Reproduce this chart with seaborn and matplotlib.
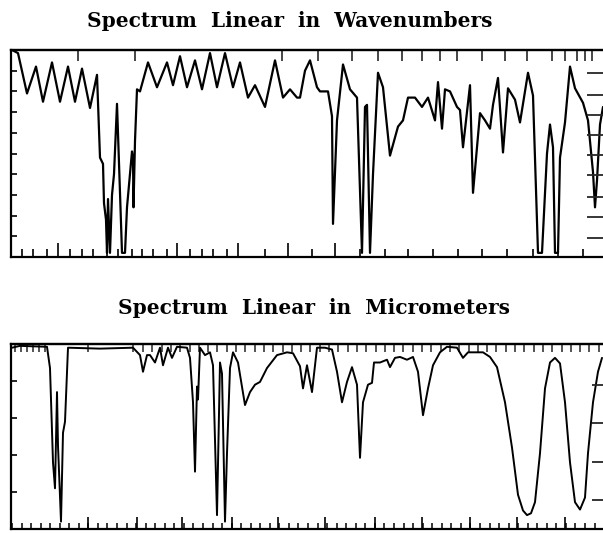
import numpy as np
import pandas as pd
import matplotlib
matplotlib.use("Agg")
import matplotlib.pyplot as plt
import seaborn as sns

# ---------------- data ----------------
# chart position along the x axis (arbitrary units, 0 = left frame) and transmittance (%)
wn_pos = [1, 7, 16, 25, 32, 41, 49, 57, 64, 71, 79, 86, 89, 92, 93, 95, 96, 97, 99, 101,
          103, 106, 109, 111, 114, 116, 121, 122, 122.5, 124, 126, 129, 137, 146, 156, 162,
          169, 176, 184, 191, 199, 206, 214, 222, 229, 237, 244, 254, 264, 272, 279, 286,
          289, 294, 299, 306, 309, 317, 321, 322, 326, 332, 339, 346, 349, 351, 354, 356,
          359, 362, 367, 372, 379, 387, 392, 397, 404, 411, 417, 424, 427, 431, 434, 439,
          446, 449, 452, 459, 462, 469, 474, 479, 482, 487, 492, 497, 504, 509, 517, 522,
          527, 531, 536, 539, 542, 544, 547, 549, 554, 559, 564, 572, 577, 582, 584, 586,
          589, 592]
wn_trans = [100, 98.5, 79, 92, 75, 94, 75, 92, 75, 91, 72, 88, 48, 45, 26, 18, 2, 28, 2, 30,
            40, 74, 31, 2, 2, 24, 51, 48, 24, 56, 81, 80, 94, 82, 94, 83,
            97, 82, 95, 81, 98.5, 82, 98.5, 82, 94, 77, 83, 72.5, 95, 77, 81, 77,
            77, 90, 95, 82, 80, 80, 68, 16, 66, 93, 81, 77, 32, 2, 72.5, 73.5,
            2, 40, 89, 82, 49, 63, 66, 77, 77, 72.5, 77, 66, 84.5, 62, 81, 80,
            72.5, 71, 53, 83, 31, 69.5, 66, 62, 73.5, 86.5, 50.5, 81.5, 76, 65, 89, 78,
            2, 2, 50, 64, 53, 2, 2, 48, 65, 92, 81.5, 74.5, 66, 41, 24, 37,
            64, 72.5]

um_pos = [1, 9, 36, 39, 42, 44, 46, 47, 50, 52, 54, 57, 89, 122, 129, 132, 136, 139, 144,
          149, 152, 157, 161, 166, 176, 179, 182, 184, 186, 187, 189, 194, 199, 202, 206,
          209, 211, 214, 216, 219, 222, 227, 234, 239, 244, 249, 256, 266, 276, 282, 289,
          292, 296, 301, 306, 314, 321, 326, 331, 336, 341, 346, 349, 352, 357, 361, 363,
          369, 376, 379, 384, 389, 396, 402, 407, 412, 417, 422, 429, 436, 446, 452, 457,
          466, 472, 479, 486, 494, 501, 507, 512, 516, 520, 524, 529, 534, 539, 544, 549,
          554, 559, 564, 569, 574, 577, 582, 587, 591]
um_trans = [98, 99, 98.5, 87, 36, 22, 74, 45, 4, 52, 58, 98, 97.5, 98, 94, 85, 94, 94, 90,
            98, 88.5, 98, 92.5, 98.5, 98, 92.5, 68.5, 31, 77, 70, 98, 94, 95.5, 88.5, 7.5,
            90, 84, 4, 41, 87, 95.5, 90, 67, 74, 78, 79.5, 87, 94, 95.5, 95, 88,
            76, 88.5, 74, 98, 98, 97, 85, 68.5, 79.5, 87.5, 78, 38.5, 68.5, 78, 79, 90,
            90, 91.5, 87.5, 92.5, 93, 91.5, 93, 85, 61.5, 76, 88.5, 95.5, 98.5, 98, 92.5, 95.5,
            95.5, 95.5, 93, 87.5, 68.5, 44, 18.5, 10, 7.5, 8.5, 14.5, 41, 76, 90, 92.5, 89.5,
            68.5, 36, 14.5, 10.5, 17, 41, 68.5, 85, 92.5]

titles = ["Spectrum  Linear  in  Wavenumbers", "Spectrum  Linear  in  Micrometers"]

# ---------------- figure ----------------
sns.set_style("white")
plt.rcParams["font.family"] = ["DejaVu Serif", "Liberation Serif"]
plt.rcParams["text.color"] = "black"

W, H = 603, 533
fig = plt.figure(figsize=(W / 100, H / 100), dpi=100)

def frac_rect(left_px, top_px, right_px, bottom_px):
    return [left_px / W, 1 - bottom_px / H, (right_px - left_px) / W, (bottom_px - top_px) / H]

ax1 = fig.add_axes(frac_rect(11, 50, 606, 257))
ax2 = fig.add_axes(frac_rect(11, 344, 606, 529))

df1 = pd.DataFrame({"pos": wn_pos, "T": wn_trans})
df2 = pd.DataFrame({"pos": um_pos, "T": um_trans})
sns.lineplot(data=df1, x="pos", y="T", ax=ax1, color="black", lw=1.6,
             sort=False, estimator=None)
sns.lineplot(data=df2, x="pos", y="T", ax=ax2, color="black", lw=1.4,
             sort=False, estimator=None)

for ax in (ax1, ax2):
    ax.set_xlim(0, 595)
    ax.set_ylim(0, 100)
    ax.set_xlabel("")
    ax.set_ylabel("")
    for s in ("left", "bottom", "top"):
        ax.spines[s].set_visible(True)
        ax.spines[s].set_color("black")
        ax.spines[s].set_linewidth(1.6)
    ax.spines["right"].set_visible(False)
    ax.tick_params(axis="both", which="both", direction="in", colors="black",
                   bottom=True, left=True, top=False, right=False,
                   labelbottom=False, labelleft=False, width=1.2)

# --- top panel ticks ---
ax1.set_yticks(np.arange(0, 101, 10))
ax1.tick_params(axis="y", length=4)
b_major1 = [47, 166, 227, 277, 324]
b_minor1 = [11, 22, 36, 59, 71, 82, 96, 107, 121, 131, 142, 156, 179, 191, 202, 216,
            254, 301, 349, 374, 397, 422, 447, 471, 496, 522, 547, 572]
ax1.set_xticks(b_major1)
ax1.set_xticks(b_minor1, minor=True)
ax1.tick_params(axis="x", which="major", length=10)
ax1.tick_params(axis="x", which="minor", length=6, width=1.2)
sec1 = ax1.secondary_xaxis("top")
sec1.set_xticks([67, 124, 271, 307, 341, 367, 391, 411, 429, 446, 471, 494, 516, 541,
                 554, 566, 574, 581])
sec1.tick_params(direction="in", length=8, width=1.2, top=True, labeltop=False)
sec1.spines["top"].set_linewidth(1.6)
tw1 = ax1.twinx()
tw1.set_ylim(0, 100)
tw1.set_yticks([9.2, 19.3, 29, 39.6, 49.3, 58.9, 68.6, 78.3, 88.9])
tw1.tick_params(direction="in", length=14, width=1.3, right=True, labelright=False)
for s in tw1.spines.values():
    s.set_visible(False)
tw1.grid(False)

# --- bottom panel ticks ---
ax2.set_yticks([0, 20, 40, 60, 80, 100])
ax2.tick_params(axis="y", length=4)
b_major2 = [77, 126, 171, 221, 267, 314, 364, 411, 459, 506, 554]
ax2.set_xticks(b_major2)
ax2.set_xticks(np.arange(1, 595, 9.55), minor=True)
ax2.tick_params(axis="x", which="major", length=9)
ax2.tick_params(axis="x", which="minor", length=4, width=1.1)
sec2 = ax2.secondary_xaxis("top")
sec2.set_xticks([4, 10, 16, 22, 28, 34, 77, 122] + list(np.arange(132, 595, 9.3)))
sec2.tick_params(direction="in", length=6, width=1.1, top=True, labeltop=False)
sec2.spines["top"].set_linewidth(1.6)
tw2 = ax2.twinx()
tw2.set_ylim(0, 100)
tw2.set_yticks([15.7, 36.2, 57.3, 77.8])
tw2.tick_params(direction="in", length=10, width=1.3, right=True, labelright=False)
for s in tw2.spines.values():
    s.set_visible(False)
tw2.grid(False)

# --- titles ---
fig.text(290 / W, 1 - 21 / H, titles[0], ha="center", va="center", color="black",
         fontsize=14.5, fontweight="bold", family=["DejaVu Serif", "Liberation Serif"])
fig.text(314 / W, 1 - 308 / H, titles[1], ha="center", va="center", color="black",
         fontsize=14.5, fontweight="bold", family=["DejaVu Serif", "Liberation Serif"])

fig.savefig("out.png", dpi=100, facecolor="white")
